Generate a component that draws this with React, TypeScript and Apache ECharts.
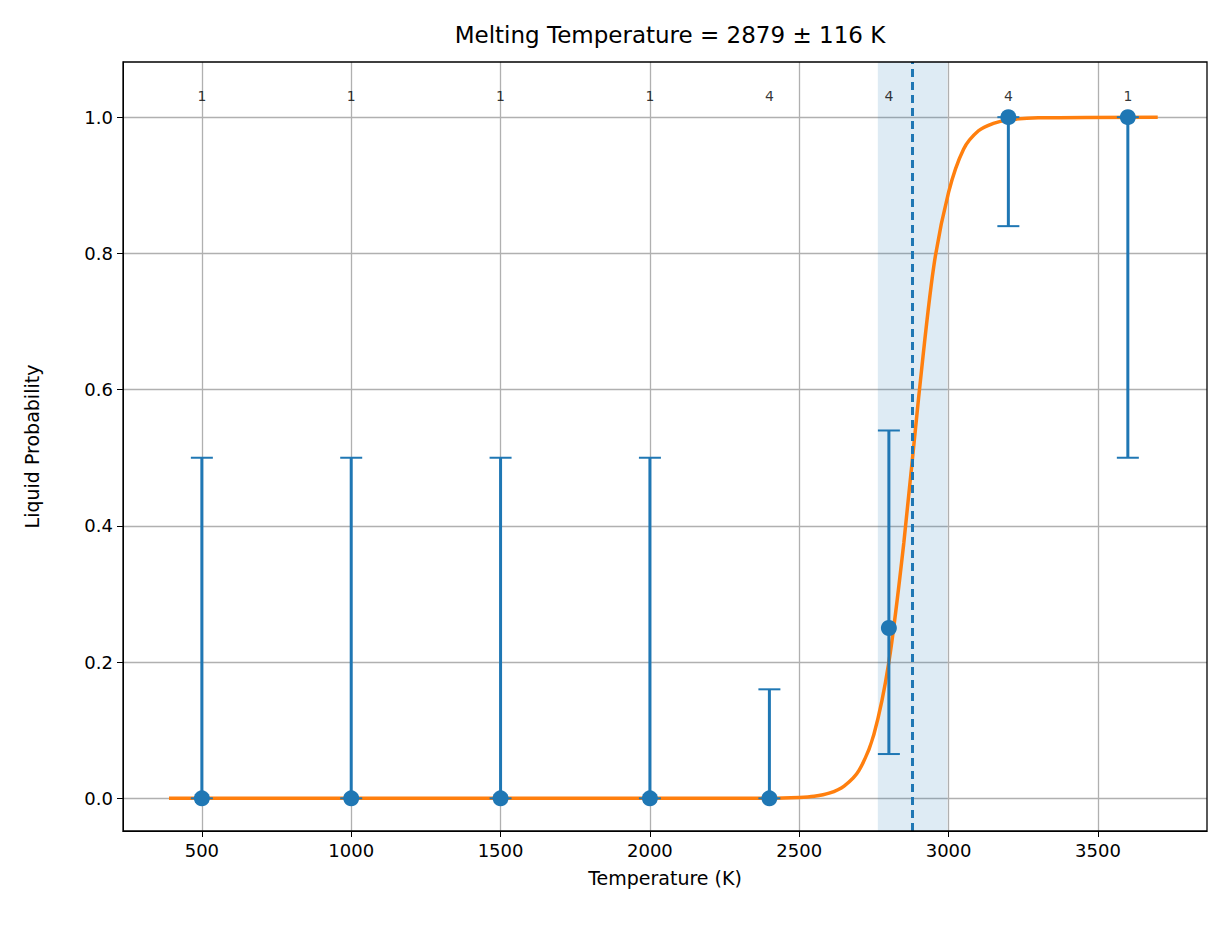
import React, { useEffect, useRef } from 'react'
import * as echarts from 'echarts'

const temps = [500, 1000, 1500, 2000, 2400, 2800, 3200, 3600]
const probs = [0, 0, 0, 0, 0, 0.25, 1, 1]
const errLow = [0, 0, 0, 0, 0, 0.065, 0.84, 0.5]
const errHigh = [0.5, 0.5, 0.5, 0.5, 0.16, 0.54, 1, 1]
const counts = [1, 1, 1, 1, 4, 4, 4, 1]

// fitted curve
const curveX = [390, 2400, 2500, 2550, 2600, 2650, 2700, 2750, 2800, 2850, 2900, 2950, 3000, 3050, 3100, 3150, 3200, 3300, 3700]
const curveY = [0, 0.0002, 0.0013, 0.003, 0.0075, 0.018, 0.041, 0.094, 0.2, 0.375, 0.59, 0.78, 0.89, 0.953, 0.98, 0.991, 0.996, 0.999, 1]

const meltT = 2879
const bandLow = 2763
const bandHigh = 2996
const xTicks = [500, 1000, 1500, 2000, 2500, 3000, 3500]
const yTicks = [0, 0.2, 0.4, 0.6, 0.8, 1.0]

const BLUE = '#1f77b4'
const ORANGE = '#ff7f0e'
const FONT = 'DejaVu Sans'

const App = () => {
    const chartRef = useRef<HTMLDivElement>(null)

    useEffect(() => {
        document.body.style.margin = '0'
        if (!chartRef.current) return
        const chart = echarts.init(chartRef.current, null, { renderer: 'svg' })

        const option = {
            animation: false,
            textStyle: { fontFamily: FONT },
            title: {
                text: 'Melting Temperature = 2879 ± 116 K',
                left: 665, top: 18, textAlign: 'center',
                textStyle: { fontFamily: FONT, fontSize: 23, fontWeight: 'normal', color: '#000' },
            },
            grid: { left: 123, right: 20, top: 62, bottom: 108 },
            graphic: [{
                type: 'rect', z: 100, silent: true,
                shape: { x: 123, y: 62, width: 1227 - 123 - 20, height: 939 - 62 - 108 },
                style: { fill: 'none', stroke: '#000', lineWidth: 1.3 },
            }],
            xAxis: {
                type: 'value', min: 236, max: 3865,
                name: 'Temperature (K)', nameLocation: 'middle', nameGap: 37,
                nameTextStyle: { fontFamily: FONT, fontSize: 19, color: '#000' },
                axisLine: { show: true, onZero: false, lineStyle: { color: '#000' } },
                axisTick: { show: true, customValues: xTicks, length: 6, lineStyle: { color: '#000' } },
                axisLabel: {
                    customValues: xTicks, fontFamily: FONT, fontSize: 18, color: '#000', margin: 10,
                    formatter: (v: number) => String(v),
                },
                splitLine: { show: true, lineStyle: { color: '#b0b0b0', width: 1.3 } },
            },
            yAxis: {
                type: 'value', min: -0.048, max: 1.081,
                name: 'Liquid Probability', nameLocation: 'middle', nameGap: 82,
                nameTextStyle: { fontFamily: FONT, fontSize: 19, color: '#000' },
                axisLine: { show: true, onZero: false, lineStyle: { color: '#000' } },
                axisTick: { show: true, customValues: yTicks, length: 6, lineStyle: { color: '#000' } },
                axisLabel: {
                    customValues: yTicks, fontFamily: FONT, fontSize: 18, color: '#000', margin: 10,
                    formatter: (v: number) => v.toFixed(1),
                },
                splitLine: { show: true, lineStyle: { color: '#b0b0b0', width: 1.3 } },
            },
            series: [
                {
                    type: 'line', data: [], silent: true,
                    markArea: {
                        silent: true,
                        itemStyle: { color: 'rgba(31,119,180,0.15)' },
                        data: [[{ xAxis: bandLow }, { xAxis: bandHigh }]],
                    },
                    markLine: {
                        silent: true, symbol: 'none', label: { show: false },
                        lineStyle: { color: BLUE, type: [8, 5], width: 3 },
                        data: [{ xAxis: meltT }],
                    },
                },
                {
                    type: 'line', z: 3,
                    data: curveX.map((x, i) => [x, curveY[i]]),
                    smooth: 0.3, showSymbol: false,
                    lineStyle: { color: ORANGE, width: 3.5 },
                },
                {
                    type: 'custom', z: 4,
                    data: temps.map((t, i) => [t, errLow[i], errHigh[i]]),
                    renderItem: (params: any, api: any) => {
                        const lo = api.coord([api.value(0), api.value(1)])
                        const hi = api.coord([api.value(0), api.value(2)])
                        const w = 11
                        return {
                            type: 'group',
                            children: [
                                { type: 'line', shape: { x1: lo[0], y1: lo[1], x2: hi[0], y2: hi[1] }, style: { stroke: BLUE, lineWidth: 3 } },
                                { type: 'line', shape: { x1: lo[0] - w, y1: lo[1], x2: lo[0] + w, y2: lo[1] }, style: { stroke: BLUE, lineWidth: 2 } },
                                { type: 'line', shape: { x1: hi[0] - w, y1: hi[1], x2: hi[0] + w, y2: hi[1] }, style: { stroke: BLUE, lineWidth: 2 } },
                            ],
                        }
                    },
                },
                {
                    type: 'scatter', z: 5,
                    data: temps.map((t, i) => [t, probs[i]]),
                    symbolSize: 16, itemStyle: { color: BLUE, opacity: 1 },
                },
                {
                    type: 'scatter', z: 5,
                    data: temps.map((t, i) => [t, 1.031, counts[i]]),
                    symbolSize: 0,
                    label: {
                        show: true, position: 'inside', fontFamily: FONT, fontSize: 14, color: '#000',
                        formatter: (p: any) => String(p.value[2]),
                    },
                },
            ],
        }

        chart.setOption(option)
        return () => chart.dispose()
    }, [])

    return <div ref={chartRef} style={{ width: 1227, height: 939 }} />
}

export default App
